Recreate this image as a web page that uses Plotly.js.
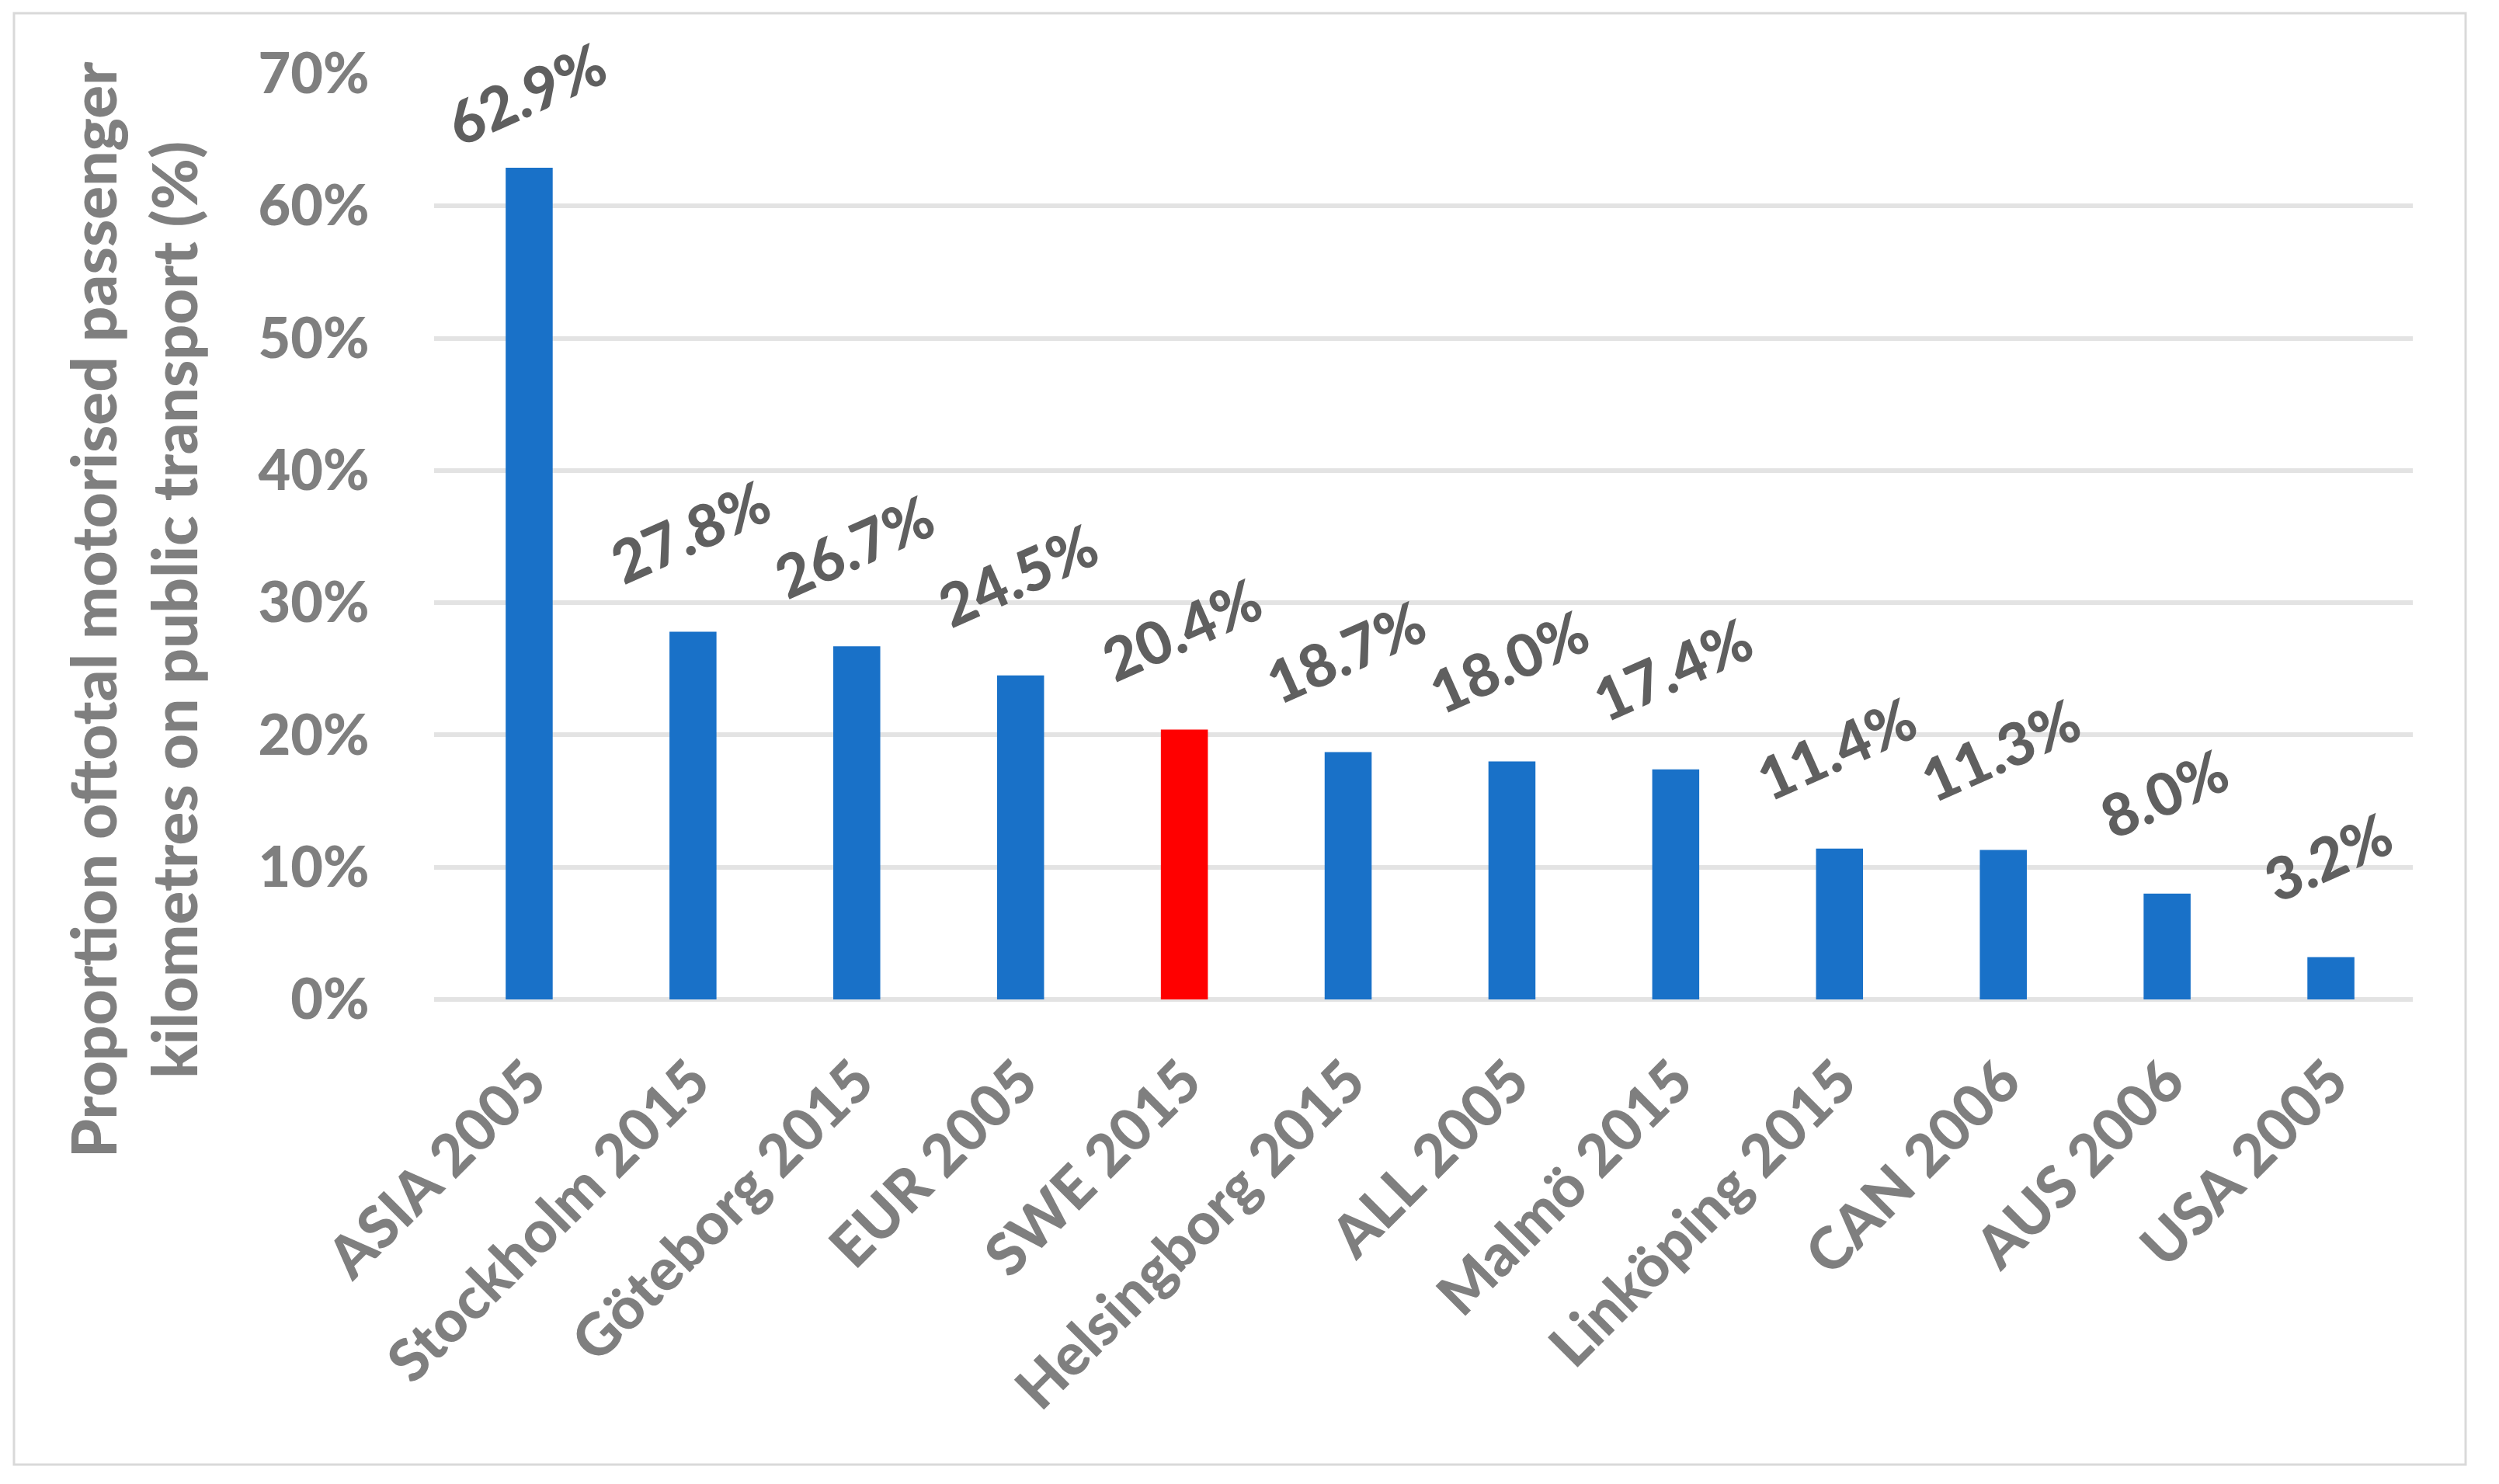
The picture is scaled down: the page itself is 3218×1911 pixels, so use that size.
<!DOCTYPE html>
<html>
<head>
<meta charset="utf-8">
<script src="https://cdn.plot.ly/plotly-3.0.1.min.js"></script>
<style>
  html, body { margin: 0; padding: 0; background: #ffffff; }
  #chart { width: 3218px; height: 1911px; }
</style>
</head>
<body>
<div id="chart"></div>
<script>
// ---- Data ----
const categories = ["ASIA 2005", "Stockholm 2015", "Göteborg 2015", "EUR 2005", "SWE 2015",
  "Helsingborg 2015", "ALL 2005", "Malmö 2015", "Linköping 2015", "CAN 2006", "AUS 2006", "USA 2005"];
const shares = [62.9, 27.8, 26.7, 24.5, 20.4, 18.7, 18.0, 17.4, 11.4, 11.3, 8.0, 3.2];
const highlighted = ["SWE 2015"];
const yTitleLines = ["Proportion oftotal motorised passenger", "kilometres on public transport (%)"];

// ---- Layout constants (pixels) ----
const W = 3218, H = 1911;
const M = { l: 559, r: 111, t: 95, b: 624 };
const plotW = W - M.l - M.r, plotH = H - M.t - M.b;
const yMax = 70;
const pxPerUnit = plotH / yMax;
const px2x = px => (px - M.l) / plotW;
const px2y = py => (H - M.b - py) / plotH;

const blue = "#1971C8", red = "#FF0000";
const axisGray = "#7f7f7f", labelGray = "#5f5f5f";
const fontFam = "Lato, 'Open Sans', sans-serif";
const heavy = 900;

const colors = categories.map(c => highlighted.includes(c) ? red : blue);

const trace = {
  type: "bar",
  x: categories,
  y: shares,
  marker: { color: colors, line: { width: 0 } },
  hoverinfo: "x+y"
};

// data labels above bars, kept inside chart top
const labelOffset = 130, topInset = 25;
const dataLabels = categories.map((c, i) => ({
  x: c, y: shares[i], xref: "x", yref: "y",
  text: shares[i].toFixed(1) + "%",
  showarrow: false, textangle: -24,
  xanchor: "center", yanchor: "middle",
  xshift: -4,
  yshift: Math.min(labelOffset, (yMax - shares[i]) * pxPerUnit - topInset),
  font: { family: fontFam, size: 76, weight: heavy, color: labelGray }
}));

const titleAnn = {
  xref: "paper", yref: "paper",
  x: px2x(171), y: px2y(786),
  text: yTitleLines.join("<br>"),
  showarrow: false, textangle: -90,
  xanchor: "center", yanchor: "middle",
  font: { family: fontFam, size: 80, weight: heavy, color: axisGray }
};

const layout = {
  width: W, height: H,
  margin: M,
  paper_bgcolor: "#ffffff", plot_bgcolor: "#ffffff",
  showlegend: false,
  bargap: 0.713,
  xaxis: {
    type: "category",
    tickangle: -45,
    tickfont: { family: fontFam, size: 75, weight: heavy, color: axisGray },
    ticks: "outside", ticklen: 30, tickcolor: "rgba(0,0,0,0)",
    showgrid: false, showline: false, zeroline: false, fixedrange: true
  },
  yaxis: {
    range: [0, yMax], dtick: 10, ticksuffix: "%",
    tickfont: { family: fontFam, size: 72, weight: heavy, color: axisGray },
    ticks: "outside", ticklen: 68, tickcolor: "rgba(0,0,0,0)",
    showgrid: true, gridcolor: "#e3e3e3", gridwidth: 6,
    zeroline: true, zerolinecolor: "#e3e3e3", zerolinewidth: 6,
    showline: false, fixedrange: true
  },
  annotations: dataLabels.concat([titleAnn]),
  shapes: [{
    type: "rect", xref: "paper", yref: "paper",
    x0: px2x(18), x1: px2x(3175), y0: px2y(1886), y1: px2y(17),
    line: { color: "#d9d9d9", width: 3 }, fillcolor: "rgba(0,0,0,0)", layer: "below"
  }]
};

Plotly.newPlot("chart", [trace], layout, { displayModeBar: false, staticPlot: true });
</script>
</body>
</html>
